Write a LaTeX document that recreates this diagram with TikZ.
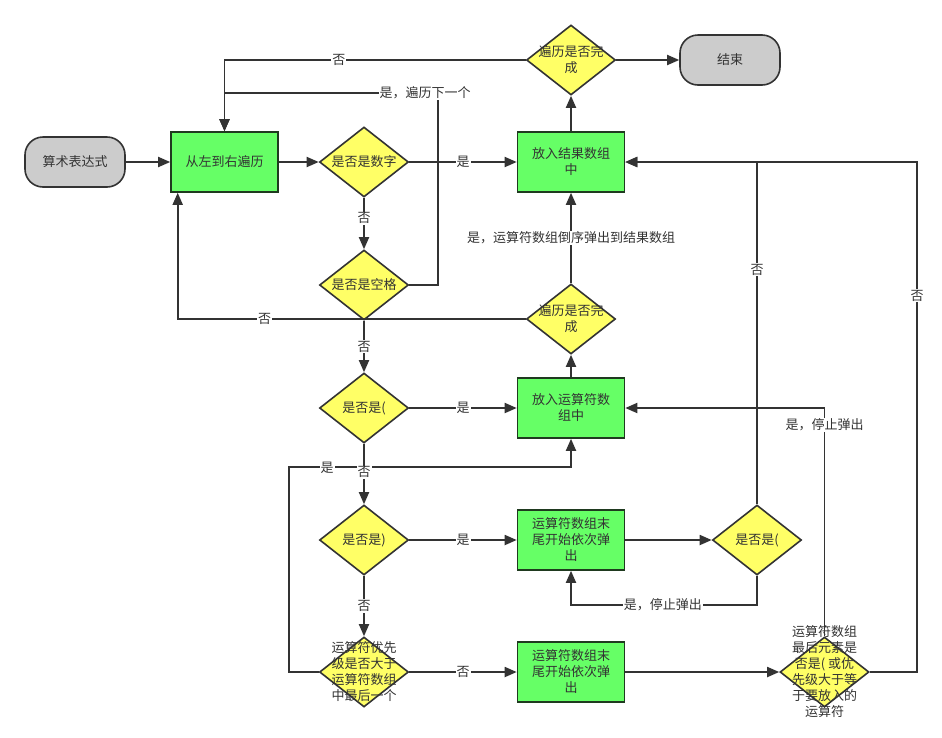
\documentclass[tikz,border=0pt]{standalone}
\usepackage{fontspec}
\setmainfont{Noto Sans CJK SC}
\usetikzlibrary{shapes.geometric,arrows.meta}
\definecolor{lc}{HTML}{333333}
\definecolor{gfill}{HTML}{66FF66}
\definecolor{gline}{HTML}{1F3A1F}
\definecolor{yfill}{HTML}{FFFF66}
\definecolor{tfill}{HTML}{CCCCCC}
\begin{document}
\begin{tikzpicture}[x=1pt,y=-1pt,
  txt/.style={font=\fontsize{13}{16}\selectfont,text=lc,align=center},
  term/.style={txt,rectangle,rounded corners=18pt,draw=lc,fill=tfill,line width=1.6pt,minimum width=100pt,minimum height=50pt},
  proc/.style={txt,rectangle,draw=gline,fill=gfill,line width=1.6pt,minimum width=107pt,minimum height=60pt,inner sep=0pt},
  dec/.style={diamond,draw=lc,fill=yfill,line width=1.6pt,minimum width=89pt,minimum height=70pt,inner sep=0pt},
  dtext/.style={txt,inner sep=0pt},
  arr/.style={draw=lc,line width=1.8pt,-{Triangle[length=12pt,width=10pt]}},
  lab/.style={txt,fill=white,inner sep=1pt}
]
\useasboundingbox[fill=white] (0,0) rectangle (942,737);

% nodes
\node[term] (start) at (75,162) {算术表达式};
\node[proc] (trav) at (224.5,162) {从左到右遍历};
\node[dec,label={[dtext]center:是否是数字}] (isnum) at (364,162) {};
\node[dec,label={[dtext]center:是否是空格}] (isspace) at (364,285) {};
\node[dec,label={[dtext]center:{遍历是否完\\成}}] (done1) at (571,60) {};
\node[term] (end) at (730,60) {结束};
\node[proc] (res) at (571,162) {放入结果数组\\中};
\node[dec,label={[dtext]center:{遍历是否完\\成}}] (done2) at (571,319) {};
\node[dec,label={[dtext]center:是否是(}] (isop) at (364,408) {};
\node[proc] (pushop) at (571,408) {放入运算符数\\组中};
\node[dec,label={[dtext]center:是否是)}] (iscl) at (364,540) {};
\node[proc] (pop1) at (571,540) {运算符数组末\\尾开始依次弹\\出};
\node[dec,label={[dtext]center:是否是(}] (isop2) at (757,540) {};
\node[dec] (prio) at (364,672) {};
\node[proc] (pop2) at (571,672) {运算符数组末\\尾开始依次弹\\出};
\node[dec] (last) at (824.5,672) {};

% connectors
\draw[arr] (start) -- (trav);
\draw[arr] (trav) -- (isnum);
\draw[arr] (isnum) -- node[lab] (l1) {是} (res);
\draw[arr] (isnum) -- node[lab,pos=0.4] (l2) {否} (isspace);
\draw[arr] (isspace.east) -| (438,93) -| (trav.north);
\node[lab] (l3) at (425,93) {是，遍历下一个};
\draw[arr] (done1.west) -| node[lab,pos=0.31] (l4) {否} (trav.north);
\draw[arr] (done1) -- (end);
\draw[arr] (res) -- (done1);
\draw[arr] (done2) -- node[lab] (l5) {是，运算符数组倒序弹出到结果数组} (res);
\draw[arr] (done2.west) -| node[lab,pos=0.375] (l6) {否} ([xshift=7.5pt]trav.south west);
\draw[arr] (isspace) -- node[lab] (l7) {否} (isop);
\draw[arr] (isop) -- node[lab] (l8) {是} (pushop);
\draw[arr] (pushop) -- (done2);
\draw[arr] (prio.west) -| (289,467) -| (pushop.south);
\node[lab] (l9) at (327,468) {是};
\draw[arr] (isop) -- node[lab,pos=0.47] (l10) {否} (iscl);
\draw[arr] (iscl) -- node[lab] (l11) {是} (pop1);
\draw[arr] (iscl) -- node[lab] (l12) {否} (prio);
\draw[arr] (pop1) -- (isop2);
\draw[arr] (isop2.south) |- node[lab,pos=0.753] (l13) {是，停止弹出} (pop1.south |- 0,605) -- (pop1.south);
\draw[arr] (isop2.north) |- node[lab,pos=0.343] (l14) {否} (res.east);
\draw[arr] (prio) -- node[lab] (l15) {否} (pop2);
\draw[arr] (pop2) -- (last);
\draw[arr] (last.east) -| node[lab,pos=0.869] (l17) {否} (917,162) -- (res.east);
% diamond texts drawn over lines
\node[dtext] (prio text) at (prio) {运算符优先\\级是否大于\\运算符数组\\中最后一个};
\draw[arr] (last.north) |- node[lab,pos=0.463] (l16) {是，停止弹出} (pushop.east);
\node[dtext] (last text) at (last) {运算符数组\\最后元素是\\否是( 或优\\先级大于等\\于要放入的\\运算符};
\end{tikzpicture}
\end{document}
